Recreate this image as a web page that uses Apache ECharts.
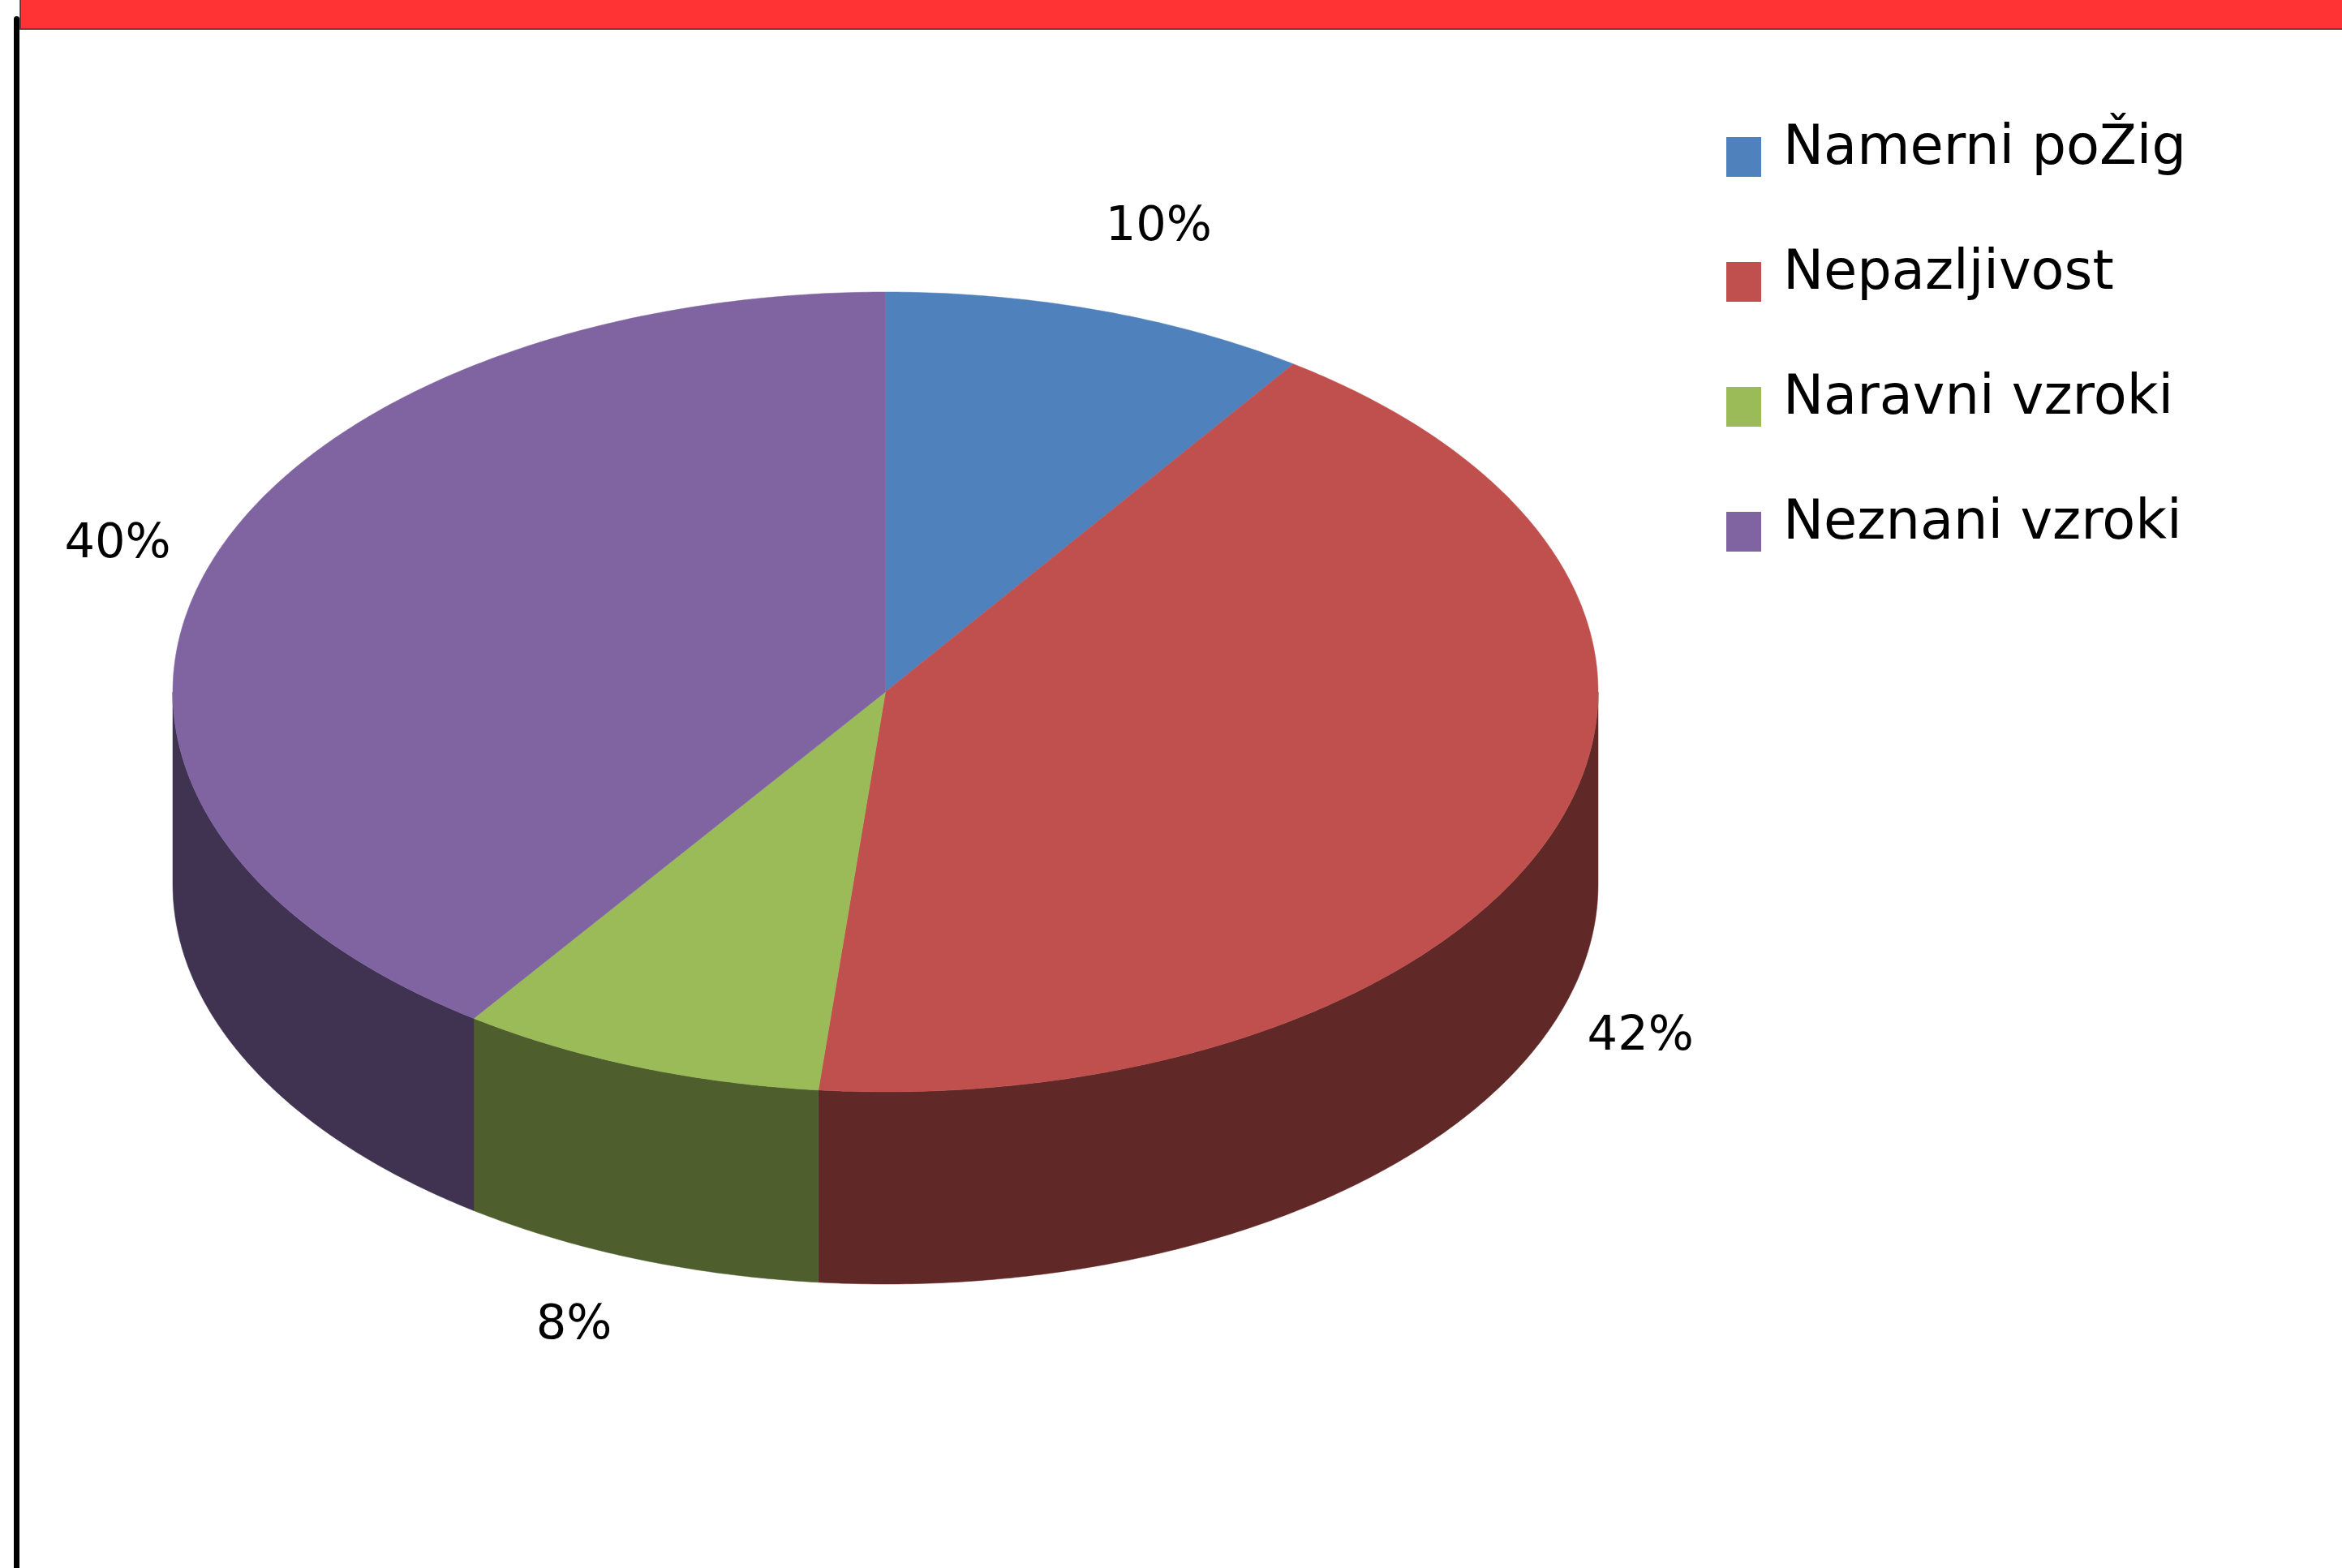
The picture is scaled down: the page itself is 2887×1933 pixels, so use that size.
<!DOCTYPE html>
<html>
<head>
<meta charset="utf-8">
<script src="https://cdn.jsdelivr.net/npm/echarts@6/dist/echarts.min.js"></script>
<style>
html,body{margin:0;padding:0;background:#fff;}
#chart{width:2887px;height:1933px;}
</style>
</head>
<body>
<div id="chart"></div>
<script>
const categories = ['Namerni poŽig', 'Nepazljivost', 'Naravni vzroki', 'Neznani vzroki'];
const values = [9.7, 41.8, 8.3, 40.2];
const topColors = ['#4F81BD', '#C0504D', '#9BBB59', '#8064A2'];
const sideColors = ['#283F5E', '#602827', '#4E5E2D', '#403251'];

const total = values.reduce((a, b) => a + b, 0);
const cum = [0];
values.forEach((v, i) => cum.push(cum[i] + v));

const chart = echarts.init(document.getElementById('chart'), null, {renderer: 'canvas'});

function renderItem(params, api) {
  const i = params.dataIndex;
  const cx = 1091.5, cy = 853, rx = 878.5, ry = 493, depth = 237;
  const v = api.value(1);
  const a1 = cum[i] / total * 360;
  const a2 = a1 + v / total * 360;
  const pt = (deg, dy) => {
    const r = deg * Math.PI / 180;
    return [cx + rx * Math.sin(r), cy - ry * Math.cos(r) + (dy || 0)];
  };
  const children = [];
  // top face
  const topPts = [[cx, cy]];
  const steps = Math.max(8, Math.ceil((a2 - a1) / 0.5));
  for (let s = 0; s <= steps; s++) topPts.push(pt(a1 + (a2 - a1) * s / steps));
  children.push({type: 'polygon', z2: 5, shape: {points: topPts},
    style: {fill: topColors[i], stroke: topColors[i], lineWidth: 0.5}});
  // side face (front half only)
  const s1 = Math.max(a1, 90), s2 = Math.min(a2, 270);
  if (s2 > s1) {
    const n = Math.max(8, Math.ceil((s2 - s1) / 0.5));
    const sp = [];
    for (let s = 0; s <= n; s++) sp.push(pt(s1 + (s2 - s1) * s / n));
    for (let s = n; s >= 0; s--) sp.push(pt(s1 + (s2 - s1) * s / n, depth));
    children.push({type: 'polygon', z2: 1, shape: {points: sp},
      style: {fill: sideColors[i], stroke: sideColors[i], lineWidth: 0.5}});
  }
  // data label
  const mid = (a1 + a2) / 2 * Math.PI / 180;
  let lx = cx + 1005 * Math.sin(mid) + 37 * Math.cos(mid);
  let ly = cy - 600 * Math.cos(mid);
  if (Math.cos(mid) < 0) ly += 219;
  children.push({type: 'text', z2: 10, x: lx, y: ly,
    style: {text: Math.round(v / total * 100) + '%', fontSize: 59, fontFamily: 'DejaVu Sans',
      fill: '#000', align: 'center', verticalAlign: 'middle'}});
  // legend
  const base = 203 + i * 154;
  children.push({type: 'rect', z2: 10, shape: {x: 2128, y: base - 34, width: 43, height: 49},
    style: {fill: topColors[i]}});
  children.push({type: 'text', z2: 10, x: 2198, y: base - 18,
    style: {text: categories[i], fontSize: 67, fontFamily: 'DejaVu Sans',
      fill: '#000', align: 'left', verticalAlign: 'middle'}});
  return {type: 'group', children};
}

chart.setOption({
  animation: false,
  backgroundColor: '#ffffff',
  graphic: [
    {type: 'rect', z: 100, shape: {x: 25, y: -2, width: 2870, height: 38},
      style: {fill: '#FF3333', stroke: '#333333', lineWidth: 1.5}},
    {type: 'rect', z: 100, shape: {x: 17, y: 20, width: 7, height: 1920, r: [4, 4, 0, 0]},
      style: {fill: '#000000'}}
  ],
  series: [{
    type: 'custom',
    coordinateSystem: 'none',
    silent: true,
    renderItem: renderItem,
    data: categories.map((c, i) => ({name: c, value: [i, values[i]]}))
  }]
});
</script>
</body>
</html>
